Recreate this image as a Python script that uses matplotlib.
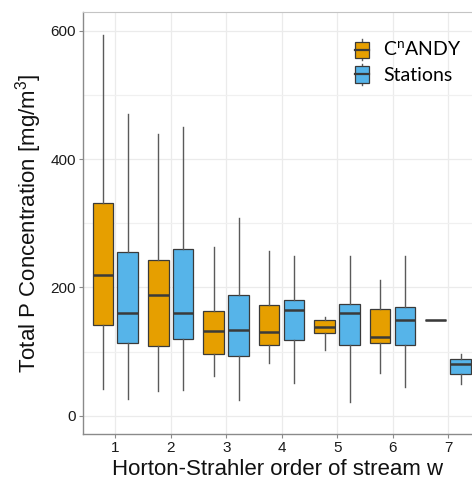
import matplotlib
matplotlib.use("Agg")
import matplotlib.pyplot as plt
from matplotlib.legend_handler import HandlerBase
from matplotlib.patches import Rectangle, Patch
from matplotlib.lines import Line2D
from matplotlib.ticker import MultipleLocator

# Horton-Strahler order and box statistics (whislo, q1, median, q3, whishi)
orders = [1, 2, 3, 4, 5, 6, 7]

candy_low = [42, 38, 62, 82, 102, 67, 150]
candy_q1 = [141, 108, 96, 111, 129, 113, 150]
candy_med = [219, 189, 132, 131, 139, 123, 150]
candy_q3 = [331, 242, 163, 173, 150, 167, 150]
candy_high = [594, 439, 263, 257, 154, 212, 150]

stat_low = [26, 40, 24, 51, 21, 45, 50]
stat_q1 = [114, 120, 93, 118, 110, 110, 65]
stat_med = [160, 160, 133, 165, 160, 150, 80]
stat_q3 = [256, 260, 188, 180, 174, 169, 88]
stat_high = [470, 450, 309, 249, 249, 249, 96]

series_names = ["C$^\\mathregular{n}$ANDY", "Stations"]
series_colors = ["#E69F00", "#56B4E9"]

EDGE = "#3a3a3a"
WHISK = "#5a5a5a"


def make_stats(low, q1, med, q3, high):
    return [dict(whislo=a, q1=b, med=c, q3=d, whishi=e, fliers=[])
            for a, b, c, d, e in zip(low, q1, med, q3, high)]


class BoxKeyHandler(HandlerBase):
    # small boxplot glyph for the legend key
    def create_artists(self, legend, orig_handle, xdescent, ydescent,
                       width, height, fontsize, trans):
        col = orig_handle.get_facecolor()
        cx = width / 2 - xdescent
        bh = height * 1.2
        by = (height - bh) / 2 - ydescent
        stub = height * 0.17
        top = Line2D([cx, cx], [by + bh, by + bh + stub], color=WHISK, lw=1, transform=trans)
        bot = Line2D([cx, cx], [by - stub, by], color=WHISK, lw=1, transform=trans)
        rect = Rectangle((-xdescent, by), width, bh, facecolor=col,
                         edgecolor=EDGE, lw=0.9, transform=trans)
        mid = Line2D([-xdescent, width - xdescent], [by + bh / 2] * 2,
                     color=EDGE, lw=1.6, transform=trans)
        return [top, bot, rect, mid]


fig = plt.figure(figsize=(4.72, 4.8), dpi=100)
ax = fig.add_axes([0.176, 0.095, 0.824, 0.881])

offset = 0.225
width = 0.37
groups = [
    (make_stats(candy_low, candy_q1, candy_med, candy_q3, candy_high), -offset, series_colors[0]),
    (make_stats(stat_low, stat_q1, stat_med, stat_q3, stat_high), offset, series_colors[1]),
]
for stats, dx, col in groups:
    ax.bxp(stats, positions=[o + dx for o in orders], widths=width,
           showcaps=False, showfliers=False, patch_artist=True,
           boxprops=dict(facecolor=col, edgecolor=EDGE, linewidth=0.9),
           whiskerprops=dict(color=WHISK, linewidth=1.0),
           medianprops=dict(color=EDGE, linewidth=1.8),
           manage_ticks=False, zorder=3)

ax.set_xlim(0.42, 7.43)
ax.set_ylim(-29, 630)
ax.set_xticks(orders)
ax.set_xticklabels([str(o) for o in orders])
ax.yaxis.set_major_locator(MultipleLocator(200))
ax.yaxis.set_minor_locator(MultipleLocator(100))

ax.grid(True, which="major", color="#ebebeb", linewidth=0.9, zorder=0)
ax.grid(True, which="minor", axis="y", color="#f0f0f0", linewidth=0.9, zorder=0)
ax.set_axisbelow(True)

for side in ["left", "bottom"]:
    ax.spines[side].set_color("#8a8a8a")
    ax.spines[side].set_linewidth(1.0)
ax.spines["top"].set_color("#c4c4c4")
ax.spines["right"].set_visible(False)

ax.tick_params(axis="both", which="major", length=3, color="#8a8a8a",
               labelsize=11, labelcolor="#1a1a1a", pad=2)
ax.tick_params(axis="y", which="minor", length=0)
for lab in ax.get_xticklabels() + ax.get_yticklabels():
    lab.set_fontfamily("Liberation Sans")

ax.set_xlabel("Horton-Strahler order of stream w", fontsize=16,
              family="Liberation Sans", color="#111111", labelpad=2.5)
ax.set_ylabel("Total P Concentration [mg/m$^\\mathregular{3}$]", fontsize=16,
              family="Liberation Sans", color="#111111", labelpad=5)

handles = [Patch(facecolor=c) for c in series_colors]
leg = ax.legend(handles, series_names, handler_map={Patch: BoxKeyHandler()},
                loc="upper left", bbox_to_anchor=(0.752, 0.915),
                bbox_transform=fig.transFigure, frameon=False,
                borderpad=0, borderaxespad=0, handlelength=0.72,
                handleheight=0.7, handletextpad=0.72, labelspacing=0.4,
                prop=dict(family="Lato", size=14))

fig.savefig("out.png", dpi=100)
